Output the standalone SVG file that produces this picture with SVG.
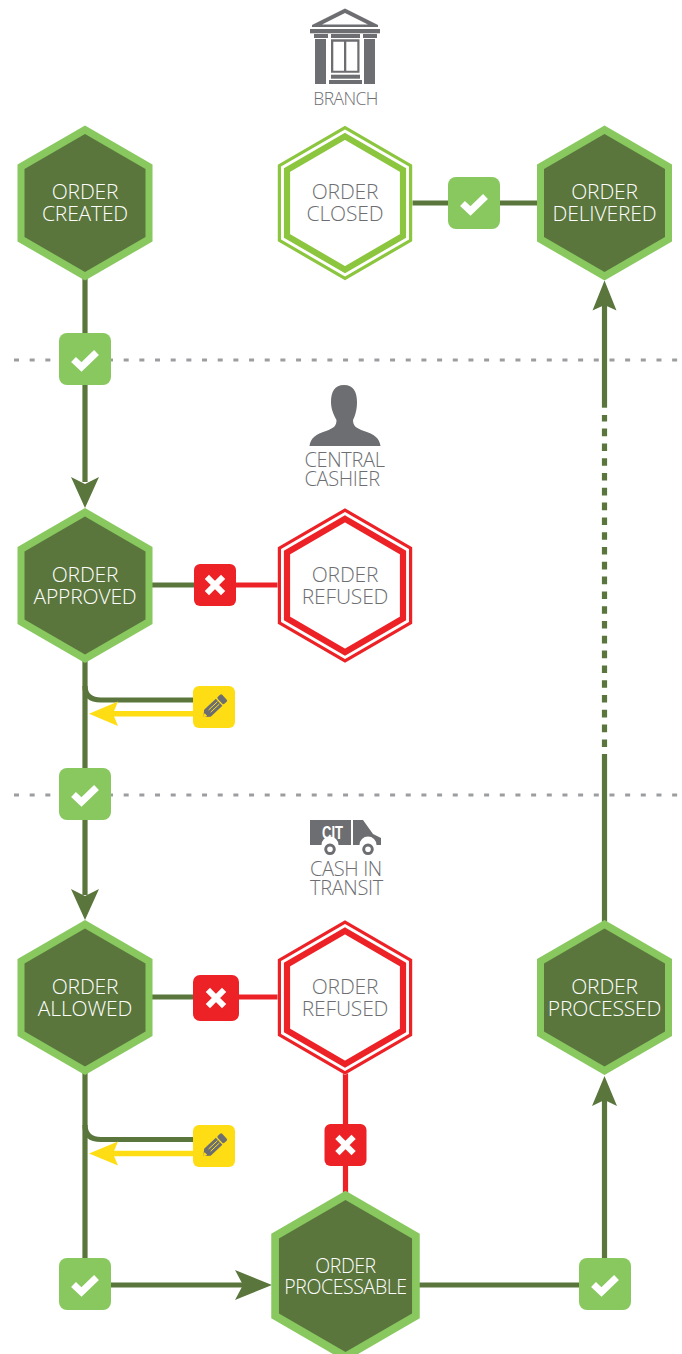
<svg xmlns="http://www.w3.org/2000/svg" width="682" height="1354" viewBox="0 0 682 1354">
<style>
text{font-family:"Open Sans","Noto Sans","Liberation Sans",sans-serif;font-weight:300;text-anchor:middle}
.n{font-size:21px;fill:#fff;letter-spacing:-.15px}
.np{font-size:19.500px;fill:#fff;letter-spacing:-.4px}
.o{font-size:21px;fill:#6d6e71;letter-spacing:-.15px}
.l{font-size:20px;fill:#6d6e71;letter-spacing:-.35px;text-anchor:start}
.b{font-size:17.500px;fill:#6d6e71;letter-spacing:-.6px}
.g{fill:none;stroke:#5a763d;stroke-width:5.200}
.r{fill:none;stroke:#ed2227;stroke-width:5.200}
.y{fill:none;stroke:#ffdd15;stroke-width:5.500}
.d{fill:none;stroke:#9c9da0;stroke-width:3;stroke-dasharray:5 10.670}
.ic{fill:#6d6e71}
.w{fill:none;stroke:#fff;stroke-width:6;stroke-linecap:square}
.ag{fill:#5a763d}
.ay{fill:#ffdd15}
</style>
<defs>
<polygon id="hl" points="0,-77.500 67.500,-38.500 67.500,38.500 0,77.500 -67.500,38.500 -67.500,-38.500" fill="#88c85f"/>
<polygon id="hd" points="0,-69 60.500,-34 60.500,34 0,69 -60.500,34 -60.500,-34" fill="#5a763d"/>
<g id="dark"><use href="#hl"/><use href="#hd"/></g>
<g id="ring">
<polygon points="0,-77.500 67.500,-38.500 67.500,38.500 0,77.500 -67.500,38.500 -67.500,-38.500" fill="#fff"/>
<polygon points="0,-75.300 65.600,-37.400 65.600,37.400 0,75.300 -65.600,37.400 -65.600,-37.400" fill="none" stroke="currentColor" stroke-width="3.200"/>
<polygon points="0,-66.600 58,-33 58,33 0,66.600 -58,33 -58,-33" fill="none" stroke="currentColor" stroke-width="6.200"/>
</g>
<g id="ok"><rect x="-26" y="-26" width="52" height="52" rx="8" fill="#88c85f"/><polyline points="-11.500,0.500 -3.500,8 11.500,-6.500" fill="none" stroke="#fff" stroke-width="7"/></g>
<g id="no"><rect x="-21" y="-21" width="42" height="42" rx="6" fill="#ed2227"/><path d="M-6,-6 6,6 M6,-6 -6,6" class="w"/></g>
<g id="no2"><rect x="-23" y="-23" width="46" height="46" rx="7" fill="#ed2227"/><path d="M-6,-6 6,6 M6,-6 -6,6" class="w"/></g>
<g id="ed"><rect x="-21" y="-21" width="42" height="42" rx="6" fill="#ffdd15"/>
<g transform="rotate(-43)" class="ic"><path d="M-14.500,0 -9,-4.800H7V4.800H-9Z"/><rect x="8.300" y="-4.800" width="6" height="9.600" rx="1.500"/></g>
<g transform="rotate(-43)" stroke="#ffdd15" stroke-width=".9" fill="#ffdd15"><path d="M-6,-1.500H6M-6,1.500H6" fill="none"/><path d="M-14,0-11.500,-1.500V1.500Z"/></g>
</g>
</defs>

<g id="separators">
<path class="d" d="M14,360H678"/>
<path class="d" d="M14,795H678"/>
</g>

<g id="connectors">
<path class="g" d="M85,278V482"/><path class="ag" d="M85,508 71,477 85,484 99,477Z"/>
<path class="g" d="M85,660V895"/><path class="ag" d="M85,920 71,889 85,896 99,889Z"/>
<path class="g" d="M85,1072V1260"/>
<path class="g" d="M85,686Q85,700 101,700H195"/>
<path class="g" d="M85,1125Q85,1139.500 101,1139.500H195"/>
<path class="y" d="M113,713.700H195"/><path class="ay" d="M89,713.700 118,701.500 113,713.700 118,726Z"/>
<path class="y" d="M113,1153.500H195"/><path class="ay" d="M89,1153.500 118,1141.500 113,1153.500 118,1165.500Z"/>
<path class="g" d="M110,1285H245"/><path class="ag" d="M272,1285 235,1270 243,1285 235,1300Z"/>
<path class="g" d="M415,1285H605"/>
<path class="g" d="M604.500,1262V1100"/><path class="ag" d="M604.500,1076 592,1106 604.500,1100 617,1106Z"/>
<path class="g" d="M604.500,925V754"/>
<path class="g" d="M604.500,747V415" stroke-dasharray="7.600 7.200"/>
<path class="g" d="M604.500,407.700V305"/><path class="ag" d="M604.500,280.500 592.500,310.500 604.500,305 616.500,310.500Z"/>
<path class="g" d="M410,203H540"/>
<path class="g" d="M150,585H200"/><path class="r" d="M230,585H282"/>
<path class="g" d="M150,997H200"/><path class="r" d="M230,997H282"/>
<path class="r" d="M345.500,1065V1195"/>
</g>

<g id="icon-branch">
<path class="ic" fill-rule="evenodd" d="M345,8.500 378,25V27H312V25ZM345,13 322,24.500H368Z"/>
<rect class="ic" x="310" y="29" width="70" height="4.300"/>
<rect class="ic" x="314" y="34" width="14" height="4"/><rect class="ic" x="331" y="34" width="29" height="4"/><rect class="ic" x="363" y="34" width="14" height="4"/>
<rect class="ic" x="315" y="39" width="11" height="45"/><rect class="ic" x="364" y="39" width="11" height="45"/>
<path class="ic" fill-rule="evenodd" d="M331,39.300H359.500V72.700H331ZM333.300,41.700V70.700H344V41.700ZM346.300,41.700V70.700H357.300V41.700Z"/>
<rect class="ic" x="331" y="74.700" width="29" height="4"/><rect class="ic" x="329" y="80" width="33" height="4"/>
<text class="b" x="345.500" y="104.500">BRANCH</text>
</g>
<g id="icon-cashier">
<path class="ic" d="M344,385C334.500,385 331,392 331,402C331,410 334.500,416 336.500,420C336.500,426 334,428 326,431C316,434 310.500,438 309.500,446H380.500C379.500,438 374,434 364,431C356,428 353,426 353,420C355,416 357,410 357,402C357,392 353.500,385 344,385Z"/>
<text class="l" x="304.500" y="467.300"><tspan x="304.500">CENTRAL</tspan><tspan x="304.500" dy="18.300">CASHIER</tspan></text>
</g>
<g id="icon-cit">
<path class="ic" d="M310,820H351V845H338.500A8.500,8.500 0 0 0 321.500,845H310Z"/>
<path class="ic" d="M353,820H363L373,834 381,838V845H376.500A8.500,8.500 0 0 0 359.500,845H353Z"/>
<circle cx="330" cy="849.300" r="4.300" fill="none" stroke="#6d6e71" stroke-width="3"/><circle cx="368" cy="849.300" r="4.300" fill="none" stroke="#6d6e71" stroke-width="3"/>
<text x="332.500" y="838.500" textLength="21" lengthAdjust="spacingAndGlyphs" style="font-family:'Liberation Sans',sans-serif;font-weight:700;font-size:17.500px;fill:#fff">CIT</text>
<text class="l" x="310" y="876"><tspan x="310">CASH IN</tspan><tspan x="310" dy="18.500">TRANSIT</tspan></text>
</g>

<g id="node-created"><use href="#dark" x="85" y="203"/><text class="n" x="85" y="199"><tspan x="85">ORDER</tspan><tspan x="85" dy="22">CREATED</tspan></text></g>
<g id="node-closed" color="#8cc63f"><use href="#ring" x="345" y="203"/><text class="o" x="345" y="199"><tspan x="345">ORDER</tspan><tspan x="345" dy="22">CLOSED</tspan></text></g>
<g id="node-delivered"><use href="#dark" x="604.500" y="203"/><text class="n" x="604.500" y="199"><tspan x="604.500">ORDER</tspan><tspan x="604.500" dy="22">DELIVERED</tspan></text></g>
<g id="node-approved"><use href="#dark" x="85" y="585.500"/><text class="n" x="85" y="582"><tspan x="85">ORDER</tspan><tspan x="85" dy="22">APPROVED</tspan></text></g>
<g id="node-refused-1" color="#ed2227"><use href="#ring" x="345" y="585.500"/><text class="o" x="345" y="582"><tspan x="345">ORDER</tspan><tspan x="345" dy="22">REFUSED</tspan></text></g>
<g id="node-allowed"><use href="#dark" x="85" y="997.500"/><text class="n" x="85" y="994"><tspan x="85">ORDER</tspan><tspan x="85" dy="22">ALLOWED</tspan></text></g>
<g id="node-refused-2" color="#ed2227"><use href="#ring" x="345" y="997.500"/><text class="o" x="345" y="994"><tspan x="345">ORDER</tspan><tspan x="345" dy="22">REFUSED</tspan></text></g>
<g id="node-processed"><use href="#dark" x="604.500" y="997.500"/><text class="n" x="604.500" y="994"><tspan x="604.500">ORDER</tspan><tspan x="604.500" dy="22">PROCESSED</tspan></text></g>
<g id="node-processable"><use href="#dark" transform="translate(345.500 1276) scale(1.1)"/><text class="np" x="345.500" y="1273"><tspan x="345.500">ORDER</tspan><tspan x="345.500" dy="21">PROCESSABLE</tspan></text></g>

<g id="badge-ok-1"><use href="#ok" x="474" y="203"/></g>
<g id="badge-ok-2"><use href="#ok" x="85" y="359"/></g>
<g id="badge-ok-3"><use href="#ok" x="85" y="794"/></g>
<g id="badge-ok-4"><use href="#ok" x="85" y="1284"/></g>
<g id="badge-ok-5"><use href="#ok" x="605" y="1284"/></g>
<g id="badge-no-1"><use href="#no" x="215" y="585"/></g>
<g id="badge-no-2"><use href="#no2" x="216" y="998"/></g>
<g id="badge-no-3"><use href="#no" x="345.500" y="1145"/></g>
<g id="badge-edit-1"><use href="#ed" x="214" y="707"/></g>
<g id="badge-edit-2"><use href="#ed" x="214" y="1146"/></g>
</svg>
